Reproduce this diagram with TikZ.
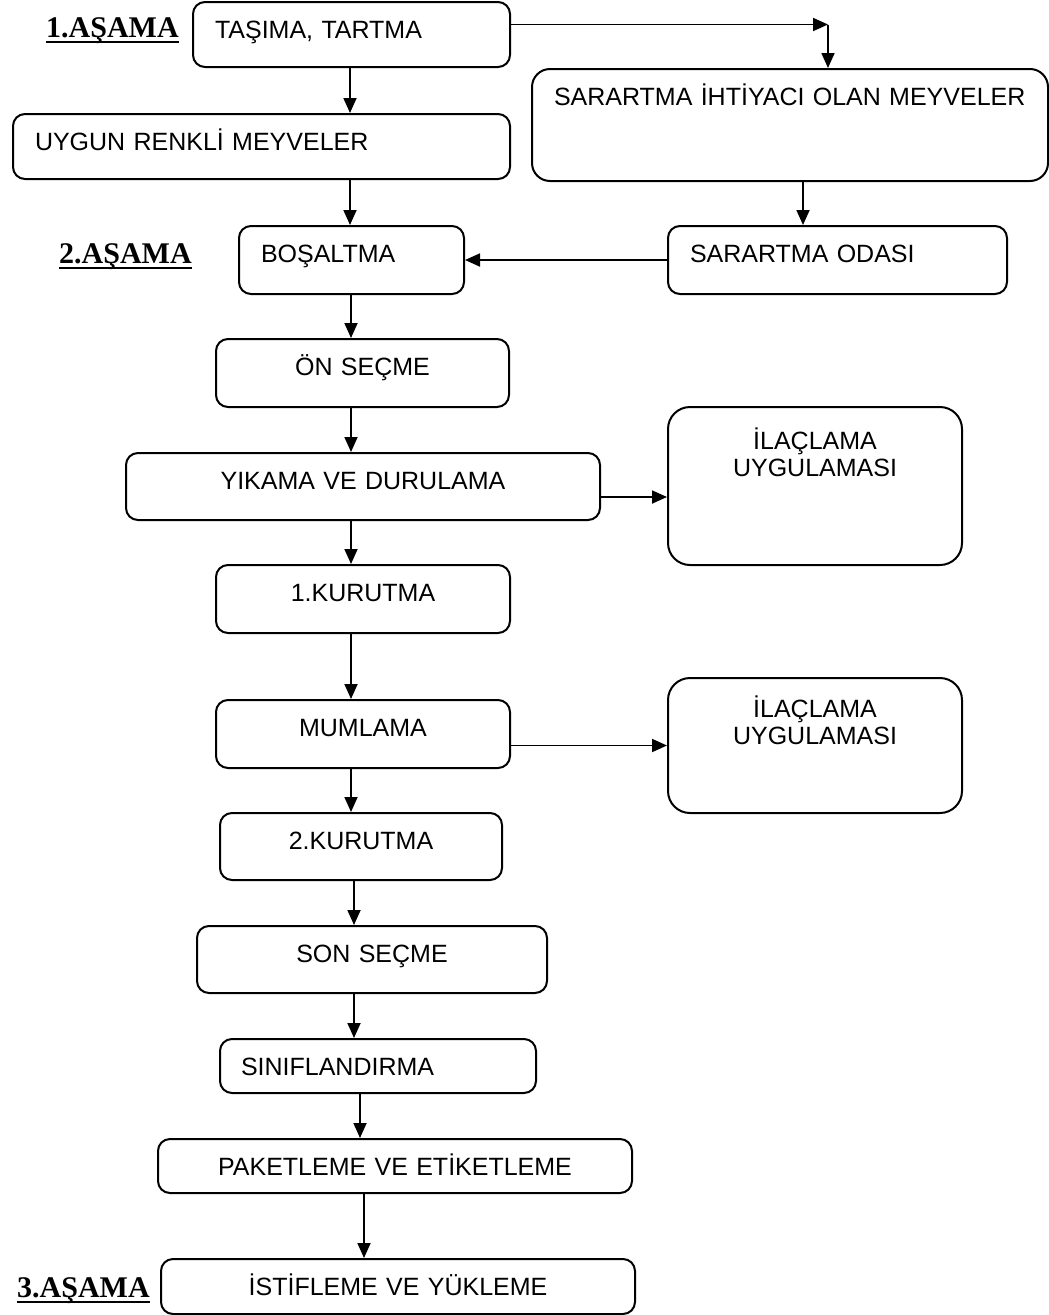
\documentclass[tikz,border=0pt]{standalone}
\usepackage{fontspec}
\setmainfont{Liberation Sans}
\newfontfamily\baslikfont{Liberation Serif}
\usepackage{tikz}
\usetikzlibrary{positioning,arrows.meta}

\begin{document}
\begin{tikzpicture}[x=1pt,y=-1pt,>={Triangle[length=15pt,width=13pt]},
  font=\fontsize{25}{27}\selectfont,
  kutu/.style={draw,line width=2pt,rounded corners=12pt,anchor=north west,
    inner xsep=22pt,inner ysep=0pt,text height=36pt,align=left},
  ortakutu/.style={kutu,align=center},
  ok/.style={->,line width=1.8pt},
  baslik/.style={font=\baslikfont\bfseries\fontsize{30}{32}\selectfont,inner sep=0pt,anchor=base west}]
  \useasboundingbox (0,0) rectangle (1049,1315);
  % stage labels
  \node[baslik] (a1) at (46,37) {1.AŞAMA};
  \node[baslik] (a2) at (59,263) {2.AŞAMA};
  \node[baslik] (a3) at (17,1297) {3.AŞAMA};
  \foreach \n in {a1,a2,a3}
    \draw[line width=2.5pt] ([yshift=-5pt]\n.base west) -- ([yshift=-5pt]\n.base east);
  % main line
  \node[kutu,text width=273pt,text depth=29pt] (tasima) at (192,1) {TAŞIMA, TARTMA};
  \node[kutu,text width=453pt,text depth=29pt] (uygun) at (12,113) {UYGUN RENKLİ MEYVELER};
  \node[kutu,text width=181pt,text depth=32pt] (bosaltma) at (238,225) {BOŞALTMA};
  \node[ortakutu,text width=249pt,text depth=32pt] (onsecme) at (215,338) {ÖN SEÇME};
  \node[ortakutu,text width=430pt,text depth=31pt] (yikama) at (125,452) {YIKAMA VE DURULAMA};
  \node[ortakutu,text width=250pt,text depth=32pt] (kurutmabir) at (215,564) {1.KURUTMA};
  \node[ortakutu,text width=250pt,text depth=32pt] (mumlama) at (215,699) {MUMLAMA};
  \node[ortakutu,text width=238pt,text depth=31pt] (kurutmaiki) at (219,812) {2.KURUTMA};
  \node[ortakutu,text width=306pt,text depth=31pt] (sonsecme) at (196,925) {SON SEÇME};
  \node[kutu,inner xsep=21pt,text width=274pt,text depth=18pt] (siniflandirma) at (219,1038) {SINIFLANDIRMA};
  \node[ortakutu,text width=430pt,text depth=18pt] (paketleme) at (157,1138) {PAKETLEME VE ETİKETLEME};
  \node[ortakutu,text width=430pt,text depth=19pt] (istifleme) at (160,1258) {İSTİFLEME VE YÜKLEME};
  % side boxes
  \node[kutu,rounded corners=18pt,text width=472pt,text depth=76pt] (ihtiyac) at (531,68)
       {SARARTMA İHTİYACI OLAN MEYVELER};
  \node[kutu,text width=295pt,text depth=32pt] (odasi) at (667,225) {SARARTMA ODASI};
  \node[ortakutu,rounded corners=22pt,text width=250pt,text height=42pt,text depth=116pt] (ilacbir) at (667,406)
       {İLAÇLAMA\\UYGULAMASI};
  \node[ortakutu,rounded corners=22pt,text width=250pt,text height=39pt,text depth=96pt] (ilaciki) at (667,677)
       {İLAÇLAMA\\UYGULAMASI};
  % arrows
  \foreach \u/\v/\x in {tasima/uygun/350,uygun/bosaltma/350,bosaltma/onsecme/351,
      onsecme/yikama/351,yikama/kurutmabir/351,kurutmabir/mumlama/351,
      mumlama/kurutmaiki/351,kurutmaiki/sonsecme/354,sonsecme/siniflandirma/354,
      siniflandirma/paketleme/360,paketleme/istifleme/364}
    \draw[ok] (\u.south -| \x,0) -- (\v.north -| \x,0);
  \draw[ok] ([yshift=10pt]tasima.east) -- ++(317,0) coordinate (dirsek);
  \draw[ok] (dirsek) -- (ihtiyac.north -| dirsek);
  \draw[ok] (ihtiyac.south -| 803,0) -- (odasi.north -| 803,0);
  \draw[ok] (odasi.west) -- (bosaltma.east);
  \draw[ok] (yikama.east |- 0,497) -- (ilacbir.west |- 0,497);
  \draw[ok] (mumlama.east |- ilaciki.west) -- (ilaciki.west);
\end{tikzpicture}
\end{document}
